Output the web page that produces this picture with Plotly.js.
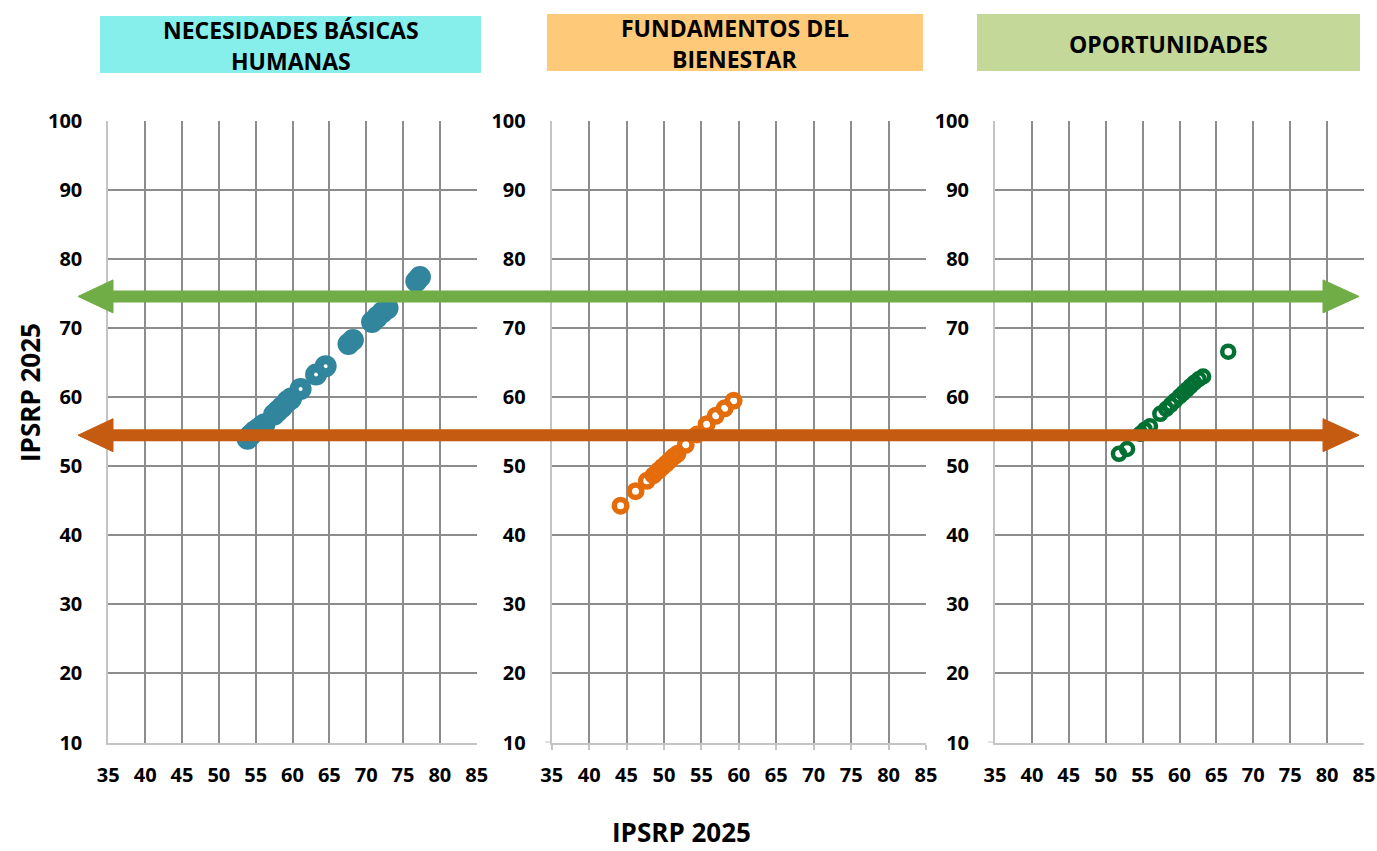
<!DOCTYPE html>
<html>
<head>
<meta charset="utf-8">
<script src="https://cdn.plot.ly/plotly-3.0.1.min.js"></script>
<style>html,body{margin:0;padding:0;background:#fff;}#chart{width:1377px;height:851px;}</style>
</head>
<body>
<div id="chart"></div>
<script>
// ---- data ----
const panelTitles = [["NECESIDADES BÁSICAS", "HUMANAS"], ["FUNDAMENTOS DEL", "BIENESTAR"], ["OPORTUNIDADES"]];
const xTicks = [35, 40, 45, 50, 55, 60, 65, 70, 75, 80, 85];
const yTicks = [10, 20, 30, 40, 50, 60, 70, 80, 90, 100];
const nbhX = [53.9, 54.3, 54.8, 55.3, 55.8, 56.2, 57.5, 58.0, 58.6, 59.3, 59.8, 61.1, 63.2, 64.5, 67.6, 68.2, 70.8, 71.5, 72.2, 72.9, 76.8, 77.3];
const nbhY = [54.0, 54.5, 55.0, 55.4, 55.8, 56.1, 57.5, 58.0, 58.6, 59.4, 59.8, 61.2, 63.3, 64.5, 67.7, 68.3, 70.9, 71.6, 72.3, 72.9, 76.8, 77.4];
const fbX = [44.2, 46.2, 47.7, 48.6, 49.3, 49.8, 50.3, 50.8, 51.3, 51.8, 52.9, 54.4, 55.7, 56.9, 58.1, 59.3];
const fbY = [44.3, 46.4, 47.9, 48.7, 49.4, 49.9, 50.4, 50.9, 51.4, 51.8, 53.1, 54.6, 56.1, 57.3, 58.4, 59.5];
const opX = [51.8, 52.9, 54.7, 55.3, 56.0, 57.4, 58.2, 58.8, 59.4, 60.0, 60.5, 61.0, 61.5, 62.0, 62.6, 63.2, 66.6];
const opY = [51.8, 52.5, 54.7, 55.3, 55.8, 57.6, 58.3, 58.9, 59.5, 60.1, 60.6, 61.1, 61.6, 62.1, 62.6, 63.0, 66.6];
const refLevels = [74.6, 54.5];
const refColors = ["#70AD47", "#C55A11"];
const axisTitle = "IPSRP 2025";

// ---- layout helpers ----
const W = 1377, H = 851;
const px = v => v / W;
const py = v => 1 - v / H;
const xDomains = [[px(108.3), px(476.7)], [px(551.7), px(926)], [px(995), px(1364)]];
const axisExt = [null, 545, 988];
const yDomain = [py(742.5), py(121)];
const headerBoxes = [
  {x0: 100, x1: 481, y0: 16, y1: 73, color: "#86EFEC", lines: [30, 61]},
  {x0: 547, x1: 923, y0: 14, y1: 71, color: "#FFC97A", lines: [28, 59]},
  {x0: 977, x1: 1360, y0: 14, y1: 71, color: "#C4D89A", lines: [44]}
];

const tickFont = {family: "Open Sans", size: 20, color: "#000", weight: "bold"};
const traces = [
  {x: nbhX, y: nbhY, color: "#31859C", size: 13, lw: 9},
  {x: fbX, y: fbY, color: "#E46C0A", size: 12.5, lw: 5.5},
  {x: opX, y: opY, color: "#007033", size: 12, lw: 4.5}
].map((s, i) => ({
  type: "scatter", mode: "markers", x: s.x, y: s.y,
  xaxis: i === 0 ? "x" : "x" + (i + 1), yaxis: i === 0 ? "y" : "y" + (i + 1),
  marker: {symbol: "circle-open", size: s.size, color: s.color, line: {width: s.lw, color: s.color}},
  hoverinfo: "x+y", showlegend: false
}));

const layout = {
  width: W, height: H, margin: {l: 0, r: 0, t: 0, b: 0},
  paper_bgcolor: "#fff", plot_bgcolor: "#fff", showlegend: false,
  shapes: [], annotations: []
};
for (let i = 0; i < 3; i++) {
  const sfx = i === 0 ? "" : String(i + 1);
  layout["xaxis" + sfx] = {
    domain: xDomains[i], range: [35, 85], tickvals: xTicks, ticktext: xTicks.map(String),
    showgrid: true, gridcolor: "#8c8c8c", gridwidth: 2,
    showline: true, linecolor: "#c4c4c4", linewidth: 2,
    zeroline: false, ticks: i === 1 ? "outside" : "", ticklen: 5, tickcolor: "#c4c4c4", tickwidth: 2,
    ticklabelstandoff: i === 1 ? 8 : 13, tickfont: tickFont,
    anchor: "y" + sfx, fixedrange: true
  };
  layout["yaxis" + sfx] = {
    domain: yDomain, range: [10, 100], tickvals: yTicks, ticktext: yTicks.map(String),
    showgrid: true, gridcolor: "#8c8c8c", gridwidth: 2,
    showline: true, linecolor: "#c4c4c4", linewidth: 2,
    zeroline: false, ticks: "", ticklabelstandoff: 20, tickfont: tickFont,
    anchor: "x" + sfx, fixedrange: true
  };
  if (axisExt[i] !== null) {
    layout.shapes.push({type: "line", xref: "paper", yref: "y", x0: px(axisExt[i]), x1: xDomains[i][0], y0: 10, y1: 10,
      line: {color: "#c4c4c4", width: 2}, layer: "below"});
  }
  const hb = headerBoxes[i];
  layout.shapes.push({type: "rect", xref: "paper", yref: "paper", x0: px(hb.x0), x1: px(hb.x1), y0: py(hb.y1), y1: py(hb.y0),
    fillcolor: hb.color, line: {width: 0}, layer: "below"});
  panelTitles[i].forEach((t, k) => {
    layout.annotations.push({xref: "paper", yref: "paper", x: px((hb.x0 + hb.x1) / 2), y: py(hb.lines[k]),
      xanchor: "center", yanchor: "middle", showarrow: false, text: t,
      font: {family: "Open Sans", size: 23, color: "#000", weight: "bold"}});
  });
}
// reference arrows
refLevels.forEach((lv, i) => {
  const c = refColors[i];
  layout.shapes.push({type: "line", xref: "paper", yref: "y", x0: px(100), x1: px(1335), y0: lv, y1: lv,
    line: {color: c, width: 12}, layer: "above"});
  const h = 16.5 / 6.91;
  layout.shapes.push({type: "path", xref: "paper", yref: "y",
    path: `M ${px(1323)} ${lv - h} L ${px(1359)} ${lv} L ${px(1323)} ${lv + h} Z`,
    fillcolor: c, line: {color: c, width: 1}, layer: "above"});
  layout.shapes.push({type: "path", xref: "paper", yref: "y",
    path: `M ${px(113)} ${lv - h} L ${px(78)} ${lv} L ${px(113)} ${lv + h} Z`,
    fillcolor: c, line: {color: c, width: 1}, layer: "above"});
});
// axis titles
layout.annotations.push({xref: "paper", yref: "paper", x: px(30), y: py(393), textangle: -90,
  xanchor: "center", yanchor: "middle", showarrow: false, text: axisTitle,
  font: {family: "Open Sans", size: 26, color: "#000", weight: "bold"}});
layout.annotations.push({xref: "paper", yref: "paper", x: px(681), y: 0, borderpad: 0,
  xanchor: "center", yanchor: "bottom", showarrow: false, text: axisTitle,
  font: {family: "Open Sans", size: 26, color: "#000", weight: "bold"}});

Plotly.newPlot("chart", traces, layout, {displayModeBar: false, staticPlot: true});
</script>
</body>
</html>
